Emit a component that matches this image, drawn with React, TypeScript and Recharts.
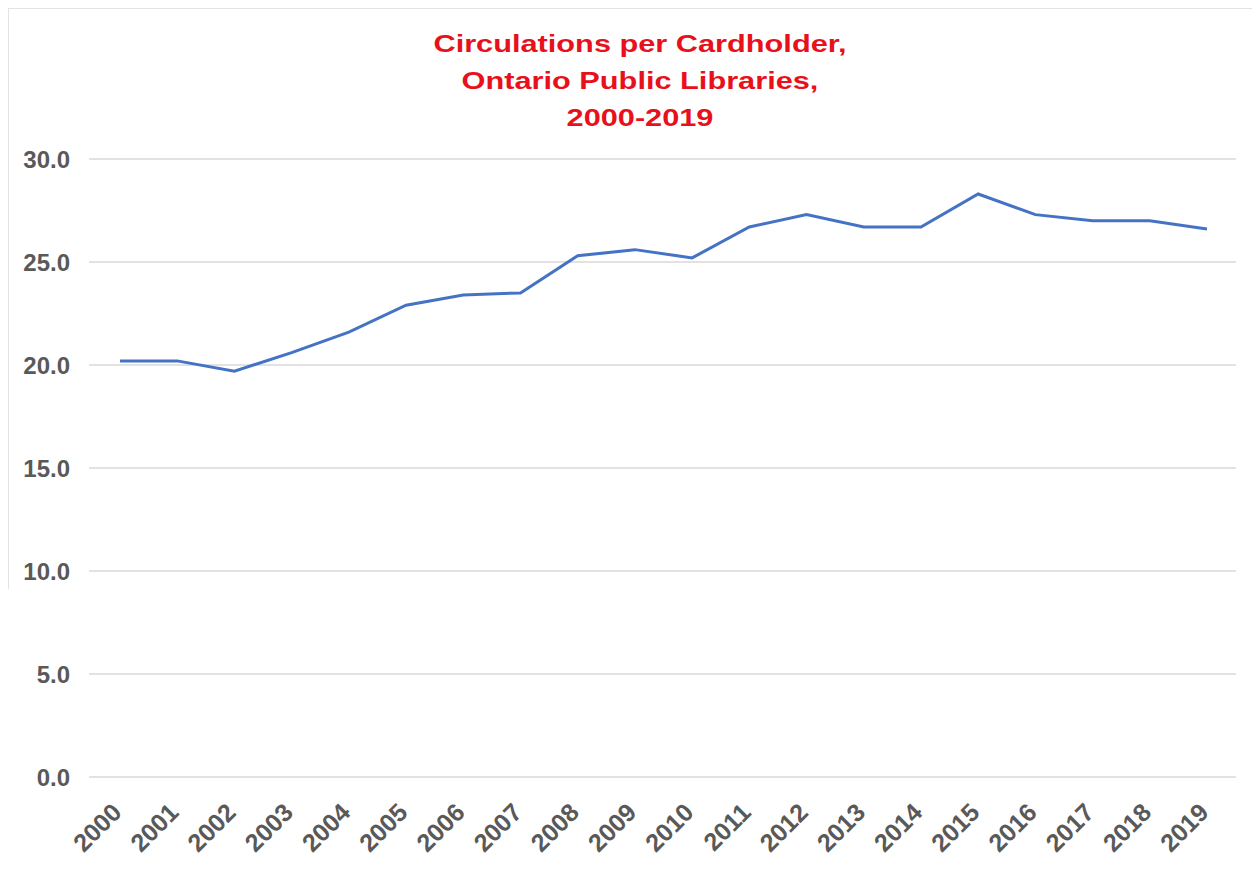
import { CartesianGrid, Line, LineChart, XAxis, YAxis } from "recharts";

const years = [
  "2000", "2001", "2002", "2003", "2004", "2005", "2006", "2007", "2008", "2009",
  "2010", "2011", "2012", "2013", "2014", "2015", "2016", "2017", "2018", "2019",
];

const circPerCardholder = [
  20.2, 20.2, 19.7, 20.6, 21.6, 22.9, 23.4, 23.5, 25.3, 25.6,
  25.2, 26.7, 27.3, 26.7, 26.7, 28.3, 27.3, 27.0, 27.0, 26.6,
];

const yTicks = [0, 5, 10, 15, 20, 25, 30];

const titleLines = [
  "Circulations per Cardholder,",
  "Ontario Public Libraries,",
  "2000-2019",
];

const data = years.map((year, i) => ({ year, value: circPerCardholder[i] }));

const labelFont = "'Liberation Sans', Arial, sans-serif";

function YearTick(props: any) {
  const { x, y, payload } = props;
  return (
    <g transform={`translate(${x + 3},${y + 29})`}>
      <text
        x={0}
        y={0}
        textAnchor="end"
        transform="rotate(-45)"
        fill="#595959"
        fontSize={25}
        fontWeight="bold"
        fontFamily={labelFont}
      >
        {payload.value}
      </text>
    </g>
  );
}

export default function App() {
  return (
    <div
      style={{
        position: "absolute",
        left: 0,
        top: 0,
        width: 1252,
        height: 869,
        background: "#fff",
      }}
    >
      <div
        style={{
          position: "absolute",
          left: 8,
          top: 8,
          width: 1244,
          height: 580,
          borderLeft: "1px solid #e3e3e3",
          borderTop: "1px solid #e3e3e3",
        }}
      />
      <div
        style={{
          position: "absolute",
          left: 14,
          top: 25,
          width: 1252,
          textAlign: "center",
          color: "#e8101a",
          fontFamily: labelFont,
          fontWeight: "bold",
          fontSize: 24,
          lineHeight: "37px",
          transform: "scaleX(1.28)",
        }}
      >
        {titleLines.map((t) => (
          <div key={t}>{t}</div>
        ))}
      </div>

      <LineChart
        width={1252}
        height={869}
        data={data}
        margin={{ top: 159, right: 16, bottom: 0, left: 0 }}
      >
        <CartesianGrid vertical={false} stroke="#d9d9d9" strokeWidth={1.5} />
        <XAxis
          dataKey="year"
          height={92}
          axisLine={false}
          tickLine={false}
          interval={0}
          padding={{ left: 31, right: 29 }}
          tick={<YearTick />}
        />
        <YAxis
          width={89}
          domain={[0, 30]}
          ticks={yTicks}
          axisLine={false}
          tickLine={false}
          tickMargin={13}
          tickFormatter={(v: number) => v.toFixed(1)}
          tick={{
            fill: "#595959",
            fontSize: 24,
            fontWeight: "bold",
            fontFamily: labelFont,
          }}
        />
        <Line
          type="linear"
          dataKey="value"
          stroke="#4472c4"
          strokeWidth={3}
          dot={false}
          isAnimationActive={false}
        />
      </LineChart>
    </div>
  );
}
